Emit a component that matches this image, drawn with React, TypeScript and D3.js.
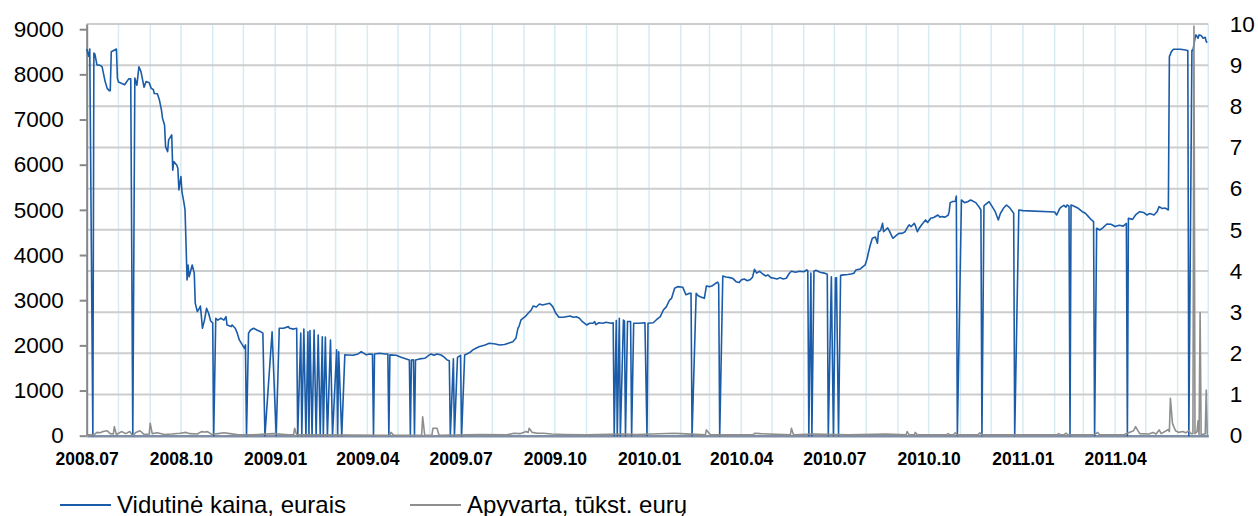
import { useEffect, useRef } from 'react'
import * as d3 from 'd3'

const leftTicks = [0, 1000, 2000, 3000, 4000, 5000, 6000, 7000, 8000, 9000]
const rightTicks = [0, 1, 2, 3, 4, 5, 6, 7, 8, 9, 10]
const xTickLabels = ['2008.07', '2008.10', '2009.01', '2009.04', '2009.07', '2009.10', '2010.01', '2010.04', '2010.07', '2010.10', '2011.01', '2011.04']
const seriesNames = ['Vidutinė kaina, eurais', 'Apyvarta, tūkst. eurų']

// vidutinė kaina (left axis), daily, zeros on days without trades
const price: [string, number][] = [
    ['2008-07-01', 8560], ['2008-07-03', 8400], ['2008-07-04', 8560], ['2008-07-07', 0], ['2008-07-08', 8470],
    ['2008-07-09', 8450], ['2008-07-11', 8210], ['2008-07-14', 8200], ['2008-07-16', 8170], ['2008-07-17', 8060],
    ['2008-07-19', 7840], ['2008-07-21', 7690], ['2008-07-23', 7640], ['2008-07-24', 7640], ['2008-07-25', 8500],
    ['2008-07-30', 8560], ['2008-07-31', 7915], ['2008-08-01', 7830], ['2008-08-07', 7770], ['2008-08-11', 7900],
    ['2008-08-13', 7900], ['2008-08-15', 0], ['2008-08-17', 7920], ['2008-08-19', 7760], ['2008-08-21', 8170],
    ['2008-08-23', 8060], ['2008-08-26', 7715], ['2008-08-28', 7840], ['2008-08-31', 7815], ['2008-09-02', 7690],
    ['2008-09-04', 7665], ['2008-09-05', 7575], ['2008-09-08', 7570], ['2008-09-10', 7430], ['2008-09-12', 7210],
    ['2008-09-13', 7030], ['2008-09-15', 6880], ['2008-09-16', 6400], ['2008-09-18', 6290], ['2008-09-19', 6550],
    ['2008-09-22', 6660], ['2008-09-23', 5880], ['2008-09-24', 6070], ['2008-09-27', 5990], ['2008-09-28', 5920],
    ['2008-09-29', 5440], ['2008-10-01', 5735], ['2008-10-02', 5400], ['2008-10-04', 5150], ['2008-10-05', 5000],
    ['2008-10-07', 3450], ['2008-10-08', 3780], ['2008-10-09', 3520], ['2008-10-12', 3780], ['2008-10-14', 3600],
    ['2008-10-15', 2930], ['2008-10-17', 2750], ['2008-10-18', 2780], ['2008-10-20', 2870], ['2008-10-21', 2635],
    ['2008-10-22', 2380], ['2008-10-24', 2560], ['2008-10-26', 2820], ['2008-10-28', 2710], ['2008-10-30', 2540],
    ['2008-11-01', 2500], ['2008-11-02', 0], ['2008-11-04', 2600], ['2008-11-06', 2560], ['2008-11-09', 2600],
    ['2008-11-12', 2560], ['2008-11-14', 2635], ['2008-11-15', 2450], ['2008-11-19', 2415], ['2008-11-20', 2450],
    ['2008-11-23', 2380], ['2008-11-25', 2270], ['2008-11-27', 2120], ['2008-11-30', 2010], ['2008-12-02', 1935],
    ['2008-12-03', 2010], ['2008-12-04', 0], ['2008-12-06', 2270], ['2008-12-08', 2340], ['2008-12-11', 2380],
    ['2008-12-14', 2340], ['2008-12-18', 2300], ['2008-12-20', 2270], ['2008-12-22', 0], ['2008-12-29', 2300],
    ['2009-01-02', 0], ['2009-01-05', 2380], ['2009-01-09', 2380], ['2009-01-14', 2415], ['2009-01-15', 2380],
    ['2009-01-19', 2360], ['2009-01-22', 2380], ['2009-01-23', 0], ['2009-01-26', 2270], ['2009-01-27', 0],
    ['2009-01-29', 2360], ['2009-01-31', 0], ['2009-02-02', 2300], ['2009-02-03', 0], ['2009-02-04', 2330],
    ['2009-02-06', 0], ['2009-02-08', 2340], ['2009-02-10', 0], ['2009-02-12', 2230], ['2009-02-14', 0],
    ['2009-02-16', 2190], ['2009-02-17', 0], ['2009-02-19', 2185], ['2009-02-21', 0], ['2009-02-24', 2120],
    ['2009-02-26', 0], ['2009-03-02', 1900], ['2009-03-03', 0], ['2009-03-04', 1860], ['2009-03-07', 0],
    ['2009-03-10', 1790], ['2009-03-13', 1787], ['2009-03-18', 1780], ['2009-03-23', 1810], ['2009-03-26', 1860],
    ['2009-03-31', 1790], ['2009-04-03', 1810], ['2009-04-06', 1800], ['2009-04-07', 0], ['2009-04-08', 1810],
    ['2009-04-13', 1825], ['2009-04-18', 1810], ['2009-04-21', 1810], ['2009-04-22', 0], ['2009-04-23', 1790],
    ['2009-04-29', 1780], ['2009-05-04', 1735], ['2009-05-09', 1700], ['2009-05-12', 1676], ['2009-05-13', 0],
    ['2009-05-14', 1676], ['2009-05-16', 1680], ['2009-05-17', 0], ['2009-05-18', 1676], ['2009-05-22', 1700],
    ['2009-05-27', 1713], ['2009-05-30', 1760], ['2009-06-02', 1810], ['2009-06-05', 1780], ['2009-06-08', 1810],
    ['2009-06-12', 1787], ['2009-06-15', 1740], ['2009-06-18', 1676], ['2009-06-20', 1660], ['2009-06-21', 0],
    ['2009-06-24', 1700], ['2009-06-25', 0], ['2009-06-28', 1735], ['2009-07-01', 1780], ['2009-07-02', 0],
    ['2009-07-05', 1787], ['2009-07-10', 1840], ['2009-07-13', 1900], ['2009-07-16', 1935], ['2009-07-19', 1970],
    ['2009-07-25', 2008], ['2009-07-29', 2046], ['2009-08-04', 2030], ['2009-08-08', 2008], ['2009-08-13', 2020],
    ['2009-08-18', 2060], ['2009-08-21', 2080], ['2009-08-24', 2156], ['2009-08-26', 2378], ['2009-08-27', 2415],
    ['2009-08-29', 2562], ['2009-09-02', 2635], ['2009-09-05', 2710], ['2009-09-08', 2783], ['2009-09-10', 2872],
    ['2009-09-13', 2850], ['2009-09-16', 2916], ['2009-09-19', 2894], ['2009-09-23', 2916], ['2009-09-26', 2932],
    ['2009-09-29', 2857], ['2009-10-02', 2710], ['2009-10-05', 2622], ['2009-10-09', 2622], ['2009-10-12', 2635],
    ['2009-10-16', 2650], ['2009-10-19', 2622], ['2009-10-22', 2635], ['2009-10-25', 2600], ['2009-10-28', 2524],
    ['2009-11-01', 2451], ['2009-11-04', 2489], ['2009-11-07', 2489], ['2009-11-09', 2524], ['2009-11-10', 2460],
    ['2009-11-13', 2500], ['2009-11-17', 2489], ['2009-11-20', 2510], ['2009-11-25', 2489], ['2009-11-27', 2500],
    ['2009-11-28', 0], ['2009-11-30', 2550], ['2009-12-01', 0], ['2009-12-03', 2600], ['2009-12-04', 0],
    ['2009-12-07', 2560], ['2009-12-08', 2540], ['2009-12-09', 0], ['2009-12-11', 2530], ['2009-12-14', 2530],
    ['2009-12-15', 0], ['2009-12-17', 2490], ['2009-12-22', 2489], ['2009-12-28', 2500], ['2009-12-30', 0],
    ['2009-12-31', 2490], ['2010-01-05', 2500], ['2010-01-08', 2562], ['2010-01-12', 2635], ['2010-01-15', 2783],
    ['2010-01-18', 2857], ['2010-01-21', 3004], ['2010-01-23', 3042], ['2010-01-26', 3264], ['2010-01-29', 3300],
    ['2010-02-03', 3285], ['2010-02-06', 3120], ['2010-02-09', 3150], ['2010-02-11', 3152], ['2010-02-12', 0],
    ['2010-02-16', 3152], ['2010-02-18', 3100], ['2010-02-20', 3078], ['2010-02-24', 3042], ['2010-02-26', 3315],
    ['2010-03-01', 3300], ['2010-03-04', 3320], ['2010-03-07', 3375], ['2010-03-09', 3400], ['2010-03-10', 3350],
    ['2010-03-11', 0], ['2010-03-14', 3536], ['2010-03-17', 3515], ['2010-03-21', 3500], ['2010-03-24', 3478],
    ['2010-03-27', 3410], ['2010-03-30', 3390], ['2010-04-01', 3450], ['2010-04-04', 3470], ['2010-04-07', 3430],
    ['2010-04-10', 3460], ['2010-04-12', 3507], ['2010-04-14', 3685], ['2010-04-16', 3600], ['2010-04-19', 3640],
    ['2010-04-22', 3580], ['2010-04-25', 3536], ['2010-04-27', 3560], ['2010-04-30', 3500], ['2010-05-03', 3485],
    ['2010-05-06', 3470], ['2010-05-09', 3500], ['2010-05-12', 3470], ['2010-05-15', 3485], ['2010-05-18', 3596],
    ['2010-05-20', 3640], ['2010-05-24', 3620], ['2010-05-28', 3640], ['2010-06-01', 3630], ['2010-06-04', 3670],
    ['2010-06-05', 3650], ['2010-06-06', 0], ['2010-06-08', 3600], ['2010-06-09', 0], ['2010-06-11', 3640],
    ['2010-06-13', 3663], ['2010-06-17', 3620], ['2010-06-21', 3600], ['2010-06-24', 3573], ['2010-06-25', 0],
    ['2010-06-28', 3520], ['2010-06-30', 0], ['2010-07-02', 3490], ['2010-07-03', 3500], ['2010-07-05', 0],
    ['2010-07-07', 3550], ['2010-07-10', 3560], ['2010-07-14', 3570], ['2010-07-17', 3580], ['2010-07-20', 3596],
    ['2010-07-22', 3670], ['2010-07-26', 3690], ['2010-07-28', 3729], ['2010-07-31', 3780], ['2010-08-02', 3928],
    ['2010-08-03', 4039], ['2010-08-05', 4223], ['2010-08-07', 4371], ['2010-08-10', 4400], ['2010-08-12', 4260],
    ['2010-08-13', 4517], ['2010-08-15', 4540], ['2010-08-17', 4703], ['2010-08-18', 4517], ['2010-08-20', 4560],
    ['2010-08-22', 4600], ['2010-08-24', 4517], ['2010-08-26', 4420], ['2010-08-27', 4371], ['2010-08-31', 4445],
    ['2010-09-02', 4480], ['2010-09-05', 4480], ['2010-09-08', 4517], ['2010-09-11', 4640], ['2010-09-12', 4666],
    ['2010-09-14', 4630], ['2010-09-17', 4703], ['2010-09-18', 4650], ['2010-09-20', 4517], ['2010-09-22', 4600],
    ['2010-09-24', 4666], ['2010-09-28', 4777], ['2010-09-30', 4720], ['2010-10-03', 4814], ['2010-10-06', 4830],
    ['2010-10-10', 4887], ['2010-10-12', 4840], ['2010-10-14', 4851], ['2010-10-17', 4840], ['2010-10-20', 4880],
    ['2010-10-21', 4960], ['2010-10-22', 5160], ['2010-10-24', 5183], ['2010-10-27', 5190], ['2010-10-28', 5308],
    ['2010-10-29', 0], ['2010-11-02', 5219], ['2010-11-05', 5160], ['2010-11-08', 5180], ['2010-11-11', 5219],
    ['2010-11-16', 5160], ['2010-11-19', 5071], ['2010-11-21', 4998], ['2010-11-22', 0], ['2010-11-24', 5090],
    ['2010-11-25', 5108], ['2010-11-29', 5182], ['2010-12-02', 5070], ['2010-12-05', 4960], ['2010-12-08', 4776],
    ['2010-12-10', 4920], ['2010-12-13', 5034], ['2010-12-16', 5108], ['2010-12-19', 5050], ['2010-12-23', 4925],
    ['2010-12-24', 0], ['2010-12-28', 4998], ['2011-01-01', 4983], ['2011-02-01', 4953], ['2011-02-03', 4887],
    ['2011-02-06', 5034], ['2011-02-08', 5071], ['2011-02-10', 5100], ['2011-02-12', 5060], ['2011-02-13', 5108],
    ['2011-02-15', 5080], ['2011-02-16', 0], ['2011-02-17', 5108], ['2011-02-19', 5090], ['2011-02-24', 5034],
    ['2011-02-28', 4960], ['2011-03-03', 4925], ['2011-03-06', 4850], ['2011-03-09', 4776], ['2011-03-11', 4740],
    ['2011-03-12', 0], ['2011-03-14', 4593], ['2011-03-17', 4555], ['2011-03-20', 4600], ['2011-03-24', 4688],
    ['2011-03-28', 4680], ['2011-04-01', 4630], ['2011-04-05', 4660], ['2011-04-09', 4640], ['2011-04-12', 4700],
    ['2011-04-13', 0], ['2011-04-14', 4814], ['2011-04-18', 4789], ['2011-04-21', 4887], ['2011-04-25', 4960],
    ['2011-04-29', 4940], ['2011-05-02', 4887], ['2011-05-05', 4920], ['2011-05-09', 4887], ['2011-05-12', 4960],
    ['2011-05-14', 5071], ['2011-05-17', 5030], ['2011-05-20', 5040], ['2011-05-23', 4998], ['2011-05-24', 8393],
    ['2011-05-26', 8503], ['2011-05-28', 8556], ['2011-06-04', 8556], ['2011-06-10', 8532], ['2011-06-11', 8530],
    ['2011-06-12', 0], ['2011-06-15', 8532], ['2011-06-16', 8532], ['2011-06-18', 8799], ['2011-06-19', 8873],
    ['2011-06-21', 8800], ['2011-06-22', 8873], ['2011-06-24', 8858], ['2011-06-26', 8800], ['2011-06-28', 8820],
    ['2011-06-29', 8725], ['2011-06-30', 8703]
]

// apyvarta, tūkst. eurų (right axis)
const turnover: [string, number][] = [
    ['2008-07-01', 0.02], ['2008-07-08', 0.02], ['2008-07-11', 0.08], ['2008-07-14', 0.07], ['2008-07-17', 0.1],
    ['2008-07-21', 0.12], ['2008-07-24', 0.05], ['2008-07-27', 0.04], ['2008-07-28', 0.22], ['2008-07-30', 0.03],
    ['2008-08-04', 0.1], ['2008-08-08', 0.05], ['2008-08-12', 0.1], ['2008-08-15', 0], ['2008-08-18', 0.08],
    ['2008-08-22', 0.12], ['2008-08-26', 0.03], ['2008-08-31', 0.04], ['2008-09-01', 0.3], ['2008-09-03', 0.05],
    ['2008-09-08', 0.07], ['2008-09-15', 0.03], ['2008-09-22', 0.04], ['2008-09-30', 0.06], ['2008-10-06', 0.08],
    ['2008-10-10', 0.05], ['2008-10-17', 0.04], ['2008-10-21', 0.1], ['2008-10-24', 0.09], ['2008-10-27', 0.1],
    ['2008-10-31', 0.03], ['2008-11-06', 0.05], ['2008-11-12', 0.07], ['2008-11-18', 0.05], ['2008-11-26', 0.02],
    ['2008-12-10', 0.02], ['2008-12-30', 0.05], ['2009-01-14', 0.02], ['2009-01-19', 0.02], ['2009-01-20', 0.18],
    ['2009-01-22', 0.02], ['2009-02-15', 0.02], ['2009-04-14', 0.01], ['2009-04-23', 0.01], ['2009-04-24', 0.08],
    ['2009-04-27', 0.01], ['2009-05-23', 0.01], ['2009-05-24', 0.02], ['2009-05-25', 0.46], ['2009-05-27', 0.01],
    ['2009-06-03', 0.01], ['2009-06-04', 0.18], ['2009-06-08', 0.18], ['2009-06-10', 0.01], ['2009-07-20', 0.03],
    ['2009-08-15', 0.02], ['2009-08-22', 0.06], ['2009-08-28', 0.05], ['2009-09-03', 0.1], ['2009-09-05', 0.08],
    ['2009-09-06', 0.18], ['2009-09-09', 0.08], ['2009-09-14', 0.06], ['2009-09-20', 0.06], ['2009-09-28', 0.04],
    ['2009-10-10', 0.03], ['2009-11-01', 0.02], ['2009-12-05', 0.04], ['2009-12-20', 0.03], ['2010-01-25', 0.06],
    ['2010-02-01', 0.05], ['2010-02-25', 0.02], ['2010-02-26', 0.14], ['2010-03-02', 0.02], ['2010-04-13', 0.02],
    ['2010-04-14', 0.06], ['2010-04-20', 0.05], ['2010-05-19', 0.02], ['2010-05-20', 0.18], ['2010-05-22', 0.02],
    ['2010-06-10', 0.04], ['2010-07-15', 0.02], ['2010-08-20', 0.04], ['2010-09-09', 0.02], ['2010-09-10', 0.1],
    ['2010-09-12', 0.02], ['2010-09-17', 0.02], ['2010-09-18', 0.08], ['2010-09-20', 0.02], ['2010-10-18', 0.02],
    ['2010-10-20', 0.05], ['2010-10-22', 0.02], ['2010-10-25', 0.02], ['2010-10-27', 0.07], ['2010-10-29', 0.02],
    ['2010-11-18', 0.02], ['2010-11-20', 0.07], ['2010-11-22', 0.02], ['2010-12-20', 0.02], ['2011-02-03', 0.02],
    ['2011-02-05', 0.05], ['2011-02-07', 0.02], ['2011-02-10', 0.02], ['2011-02-12', 0.06], ['2011-02-14', 0.02],
    ['2011-03-12', 0.03], ['2011-03-15', 0.08], ['2011-03-17', 0.02], ['2011-04-10', 0.03], ['2011-04-19', 0.12],
    ['2011-04-21', 0.22], ['2011-04-25', 0.05], ['2011-05-04', 0.04], ['2011-05-08', 0.08], ['2011-05-11', 0.04],
    ['2011-05-14', 0.14], ['2011-05-16', 0.05], ['2011-05-23', 0.15], ['2011-05-24', 0.1], ['2011-05-25', 0.91],
    ['2011-05-27', 0.3], ['2011-05-30', 0.12], ['2011-06-02', 0.08], ['2011-06-06', 0.1], ['2011-06-09', 0.07],
    ['2011-06-12', 0.12], ['2011-06-14', 0.05], ['2011-06-16', 0.05], ['2011-06-17', 9.95], ['2011-06-18', 0.05],
    ['2011-06-20', 0.1], ['2011-06-21', 0.36], ['2011-06-22', 0.02], ['2011-06-23', 2.99], ['2011-06-24', 0.02],
    ['2011-06-28', 0.05], ['2011-06-29', 1.11], ['2011-06-30', 0.02]
]

const parseDay = d3.timeParse('%Y-%m-%d')
const parseMonth = d3.timeParse('%Y.%m')

function App() {
    const ref = useRef<SVGSVGElement>(null)

    useEffect(() => {
        const svg = d3.select(ref.current)
        svg.selectAll('*').remove()

        const font = 'Liberation Sans, Arial, sans-serif'
        const left = 86.7
        const right = 1208.3
        const top = 24
        const bottom = 435.7

        const x = d3
            .scaleTime()
            .domain([parseDay('2008-07-01') as Date, parseDay('2011-07-01') as Date])
            .range([left, right])

        const yLeft = d3.scaleLinear().domain([0, 9115]).range([bottom, top])
        const yRight = d3.scaleLinear().domain([0, 10]).range([bottom, top])

        // monthly vertical grid
        const months = d3.timeMonth.range(x.domain()[0], x.domain()[1]).concat([x.domain()[1]])
        svg.append('g')
            .selectAll('line')
            .data(months)
            .join('line')
            .attr('x1', d => x(d))
            .attr('x2', d => x(d))
            .attr('y1', top)
            .attr('y2', bottom)
            .attr('stroke', '#d6ebf3')
            .attr('stroke-width', 1.5)

        // horizontal grid on right axis
        svg.append('g')
            .selectAll('line')
            .data(rightTicks.filter(t => t > 0))
            .join('line')
            .attr('x1', left)
            .attr('x2', right)
            .attr('y1', d => yRight(d))
            .attr('y2', d => yRight(d))
            .attr('stroke', '#cdcdcd')
            .attr('stroke-width', 2)

        // left axis
        const gLeft = svg.append('g')
            .attr('transform', `translate(${left}, 0)`)
            .call(d3.axisLeft(yLeft).tickValues(leftTicks).tickSize(7).tickSizeOuter(0).tickPadding(16).tickFormat(d3.format('d')))
        gLeft.select('.domain').attr('stroke', '#878787').attr('stroke-width', 2)
        gLeft.selectAll('.tick line').attr('stroke', '#878787').attr('stroke-width', 2)
        gLeft.selectAll('text')
            .attr('font-family', font)
            .attr('font-size', 22.5)
            .attr('fill', '#000')

        // right axis
        const gRight = svg.append('g')
            .attr('transform', `translate(${right}, 0)`)
            .call(d3.axisRight(yRight).tickValues(rightTicks).tickSize(0).tickPadding(21.5))
        gRight.select('.domain').remove()
        gRight.selectAll('text')
            .attr('font-family', font)
            .attr('font-size', 22.5)
            .attr('fill', '#000')

        // bottom axis
        const xTicks = xTickLabels.map(s => parseMonth(s) as Date)
        const gBottom = svg.append('g')
            .attr('transform', `translate(0, ${bottom})`)
            .call(d3.axisBottom(x).tickValues(xTicks).tickSize(0).tickPadding(17).tickFormat((_, i) => xTickLabels[i]))
        gBottom.select('.domain').attr('stroke', '#7f8ea6').attr('stroke-width', 2.5)
        gBottom.selectAll('text')
            .attr('font-family', font)
            .attr('font-size', 17.5)
            .attr('font-weight', 'bold')
            .attr('fill', '#000')

        const priceRows = price.map(([d, v]) => ({ date: parseDay(d) as Date, v }))
        const turnoverRows = turnover.map(([d, v]) => ({ date: parseDay(d) as Date, v }))

        const priceLine = d3.line<{ date: Date; v: number }>()
            .x(d => x(d.date))
            .y(d => yLeft(d.v))
        const turnoverLine = d3.line<{ date: Date; v: number }>()
            .x(d => x(d.date))
            .y(d => yRight(d.v))

        svg.append('path')
            .datum(priceRows)
            .attr('d', priceLine)
            .attr('fill', 'none')
            .attr('stroke', '#1b5ca8')
            .attr('stroke-width', 1.6)
            .attr('stroke-linejoin', 'round')

        svg.append('path')
            .datum(turnoverRows)
            .attr('d', turnoverLine)
            .attr('fill', 'none')
            .attr('stroke', '#8e8e8e')
            .attr('stroke-width', 1.6)
            .attr('stroke-linejoin', 'round')

        // legend
        const legendColors = ['#1b5ca8', '#8e8e8e']
        const legendX = [60, 410]
        const legend = svg.append('g')
            .selectAll('g')
            .data(seriesNames)
            .join('g')
            .attr('transform', (_, i) => `translate(${legendX[i]}, 505)`)
        legend.append('line')
            .attr('x1', 0)
            .attr('x2', 51)
            .attr('stroke', (_, i) => legendColors[i])
            .attr('stroke-width', 1.8)
        legend.append('text')
            .attr('x', 57)
            .attr('y', 7.5)
            .attr('font-family', font)
            .attr('font-size', 24)
            .attr('fill', '#000')
            .text(d => d)
    }, [])

    return (
        <svg
            ref={ref}
            width={1258}
            height={516}
            style={{ position: 'absolute', left: 0, top: 0, background: '#fff' }}
        />
    )
}

export default App
